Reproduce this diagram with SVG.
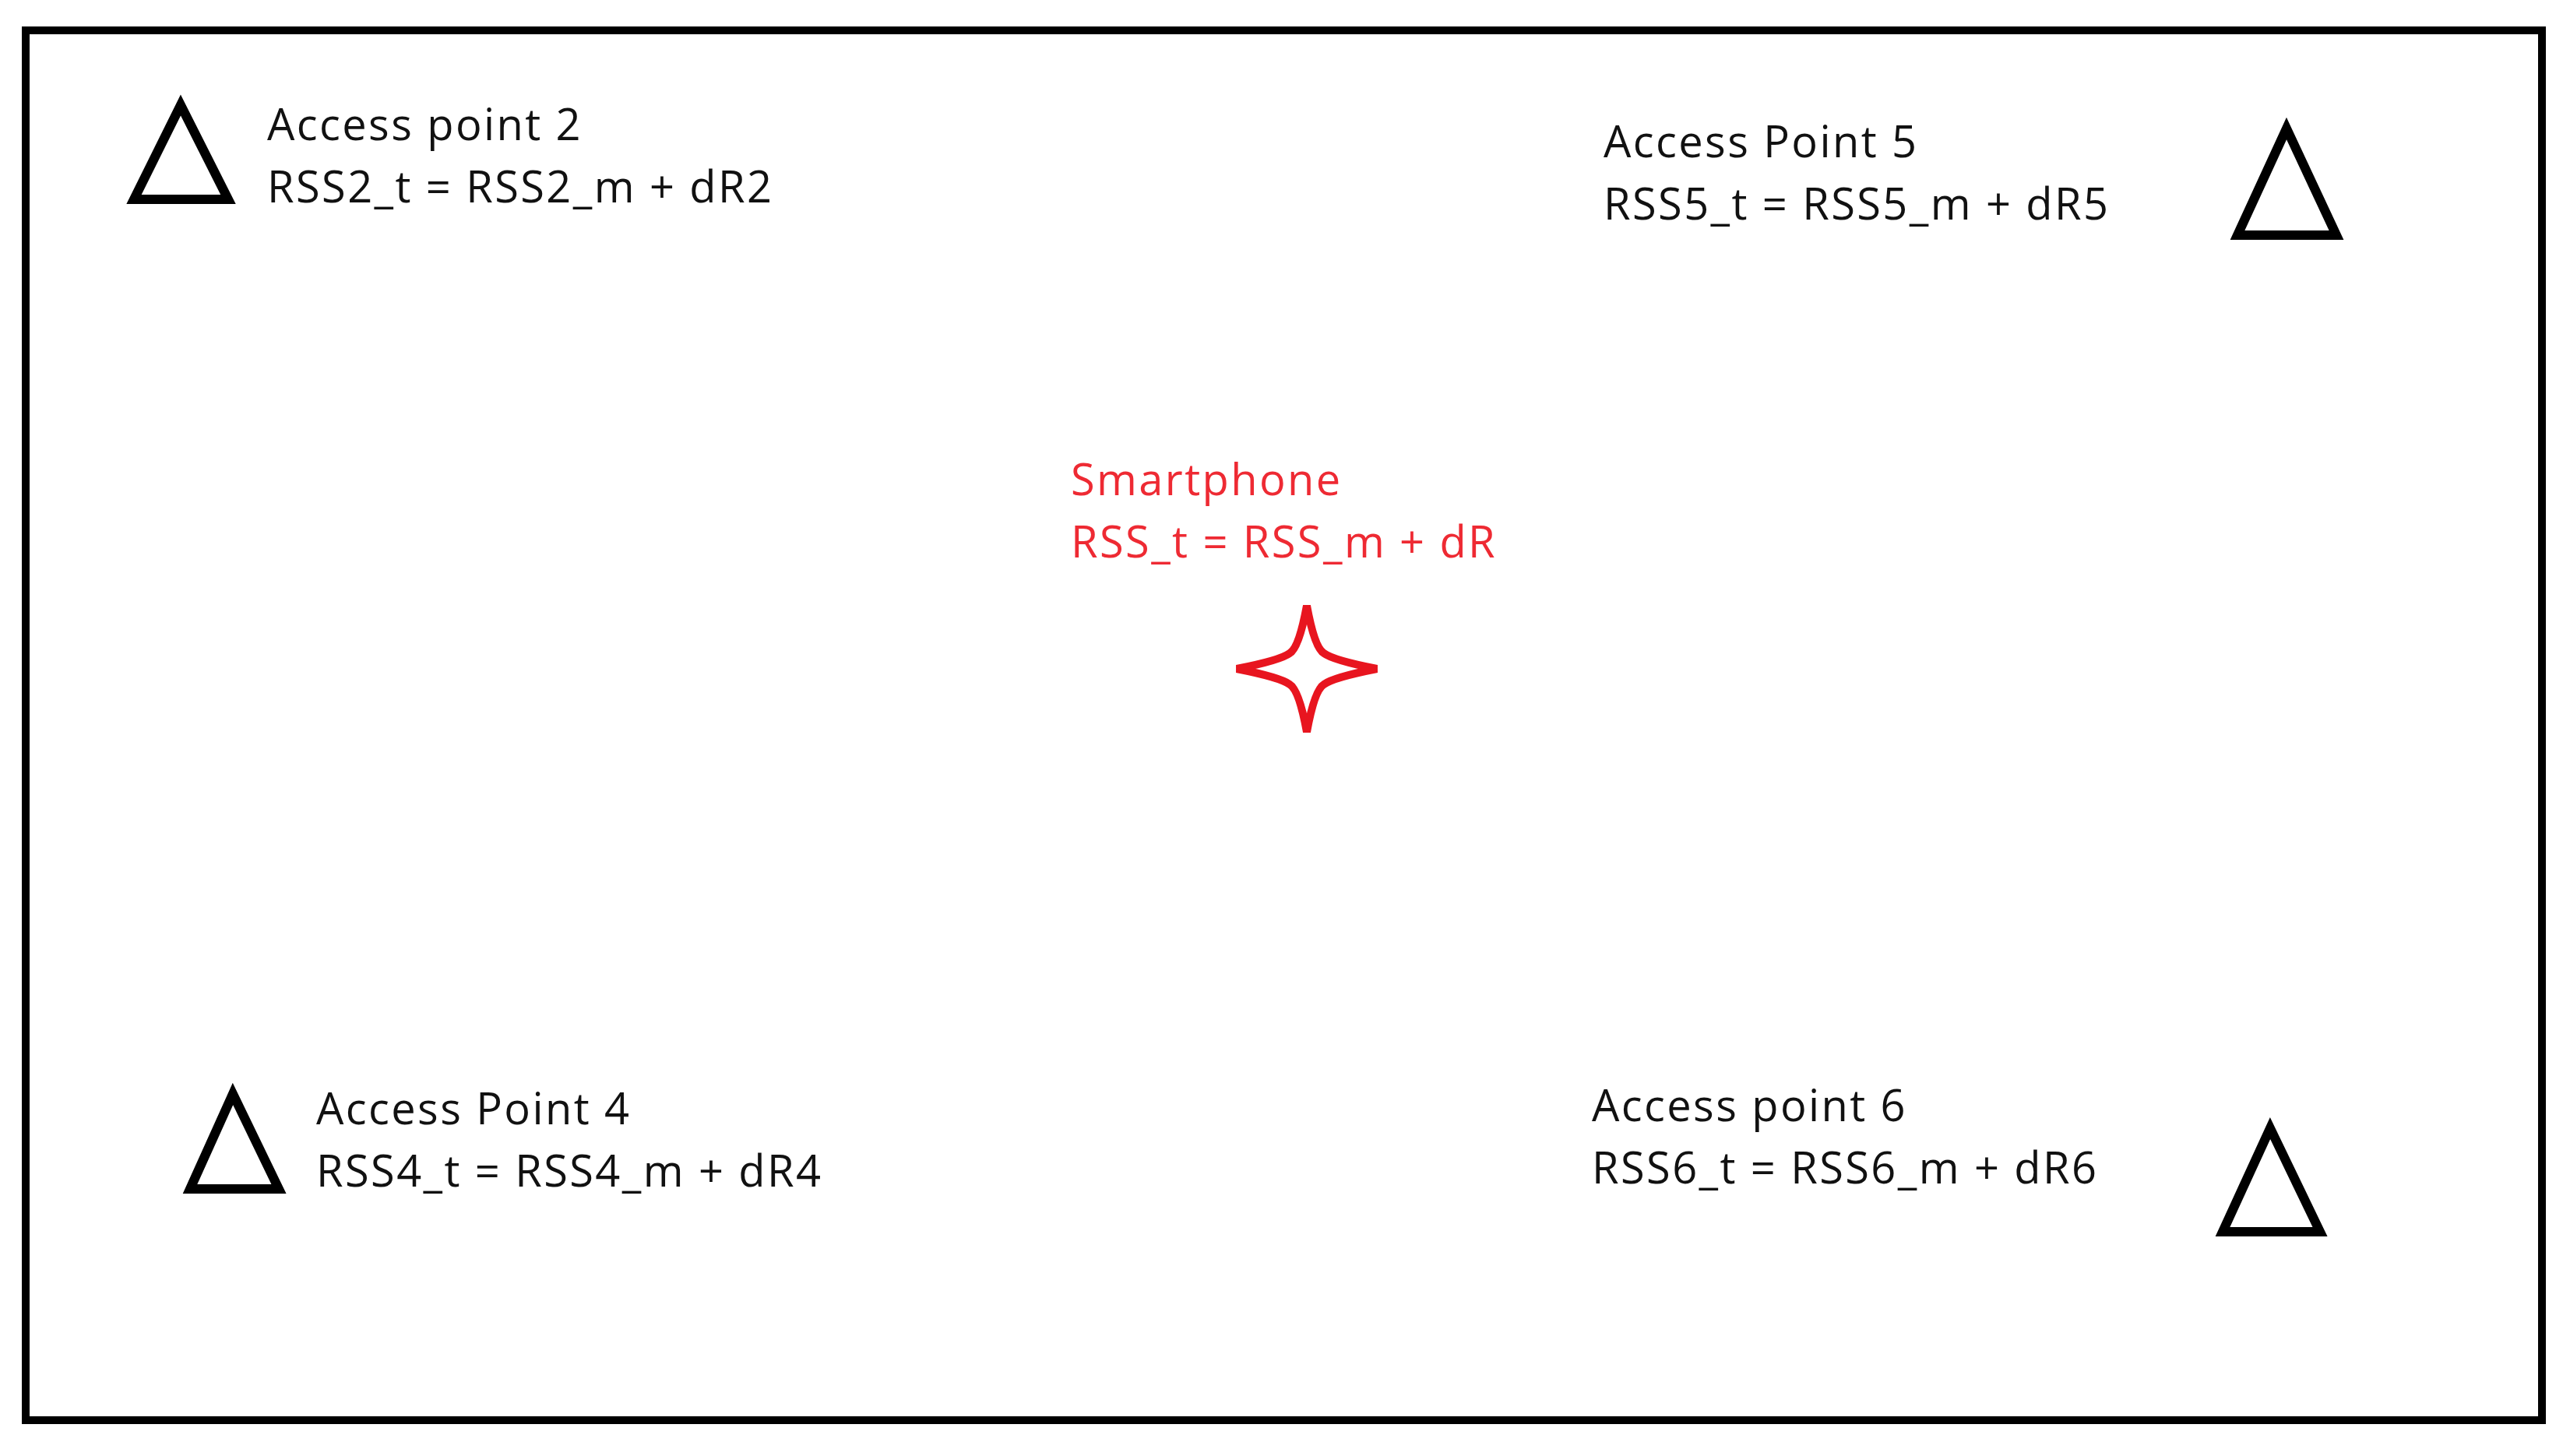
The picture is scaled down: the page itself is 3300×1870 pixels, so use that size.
<svg xmlns="http://www.w3.org/2000/svg" width="3300" height="1870" viewBox="0 0 3300 1870">
<style>
.t{font-family:"Open Sans","Noto Sans","DejaVu Sans",sans-serif;font-size:56px;letter-spacing:2.4px;fill:#111}
.r{fill:#ee2a33}
.tri{fill:none;stroke:#000;stroke-width:12;stroke-linejoin:miter}
</style>
<rect x="0" y="0" width="3300" height="1870" fill="#fff"/>
<rect x="33" y="39" width="3231" height="1785" fill="none" stroke="#000" stroke-width="10"/>
<g id="ap2"><path class="tri" d="M232,135 L172,256 L293,256 Z"/><text class="t" x="343" y="180">Access point 2</text><text class="t" x="343" y="260">RSS2_t = RSS2_m + dR2</text></g>
<g id="ap5"><path class="tri" d="M2936,165 L2873,302 L3000,302 Z"/><text class="t" x="2059" y="202">Access Point 5</text><text class="t" x="2059" y="282">RSS5_t = RSS5_m + dR5</text></g>
<g id="smartphone"><text class="t r" x="1375" y="636">Smartphone</text><text class="t r" x="1375" y="716">RSS_t = RSS_m + dR</text>
<path d="M1678,778 Q1688,832 1700,839 Q1712,848 1768,859 Q1712,870 1700,879 Q1688,886 1678,940 Q1668,886 1656,879 Q1644,870 1588,859 Q1644,848 1656,839 Q1668,832 1678,778 Z" fill="none" stroke="#e8151f" stroke-width="10" stroke-linejoin="miter"/></g>
<g id="ap4"><path class="tri" d="M299,1405 L244,1527 L358,1527 Z"/><text class="t" x="406" y="1444">Access Point 4</text><text class="t" x="406" y="1524">RSS4_t = RSS4_m + dR4</text></g>
<g id="ap6"><path class="tri" d="M2915,1449 L2854,1582 L2979,1582 Z"/><text class="t" x="2044" y="1440">Access point 6</text><text class="t" x="2044" y="1520">RSS6_t = RSS6_m + dR6</text></g>
<g id="connectors"/>
</svg>
